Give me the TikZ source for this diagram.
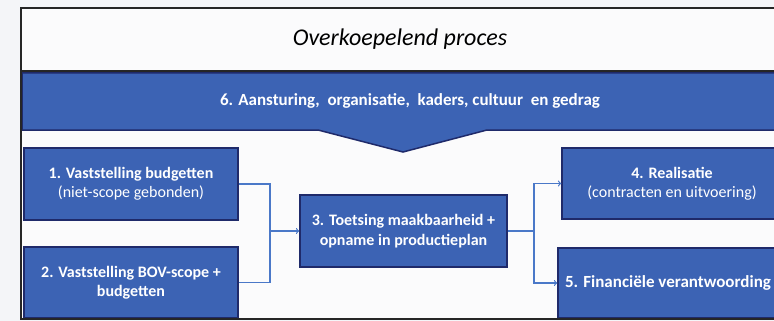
\documentclass[tikz,border=0pt]{standalone}
\usepackage{fontspec}
\setmainfont{Carlito}
\definecolor{procesblauw}{HTML}{3C63B4}
\definecolor{randblauw}{HTML}{1F2A6A}
\definecolor{lijnblauw}{HTML}{4A78C8}
\definecolor{achtergrond}{HTML}{F4F5F8}
\begin{document}
\begin{tikzpicture}[x=1pt,y=-1pt,
	stap/.style={rectangle, draw=randblauw, line width=1.5pt, fill=procesblauw, text=white, align=center, inner sep=0pt, font=\fontsize{16}{19.5}\selectfont},
	pijl/.style={draw=lijnblauw, line width=1.2pt}]
	\useasboundingbox (0,0) rectangle (774,321);
	\clip (0,0) rectangle (774,321);
	\fill[achtergrond] (0,0) rectangle (774,321);
	\fill[white!60!achtergrond] (21,8) rectangle (795,319);
	% overkoepelend proces
	\node (kop) at (400,39)	[font=\itshape\fontsize{24}{28}\selectfont]	{Overkoepelend proces};
	\filldraw[fill=procesblauw, draw=randblauw, line width=1.5pt] (22,73) -- (795,73) -- (795,130) -- (487,130) -- (403,152) -- (318,130) -- (22,130) -- cycle;
	\node (P6) at (410,101)	[text=white, font=\bfseries\fontsize{17}{20}\selectfont]	{6. Aansturing,\ \ organisatie,\ \ kaders, cultuur\ \ en gedrag};
	% processtappen
	\node (P1) at (131,184)		[stap, minimum width=214pt, minimum height=72pt]	{\textbf{1. Vaststelling budgetten}\\(niet-scope gebonden)};
	\node (P2) at (131,282.5)	[stap, minimum width=214pt, minimum height=71pt]	{\textbf{2. Vaststelling BOV-scope +}\\\textbf{budgetten}};
	\node (P3) at (403.5,231)	[stap, minimum width=207pt, minimum height=72pt]	{\textbf{3. Toetsing maakbaarheid +}\\\textbf{opname in productieplan}};
	\node (P4) at (672,183.5)	[stap, minimum width=220pt, minimum height=71pt]	{\textbf{4. Realisatie}\\(contracten en uitvoering)};
	\node (P5) at (668,283)		[stap, minimum width=220pt, minimum height=70pt, font=\fontsize{17}{20}\selectfont]	{\textbf{5. Financiële verantwoording}};
	\coordinate (J1) at (270,231);
	\coordinate (J2) at (534,231);
	\draw[pijl] (P1.east) -| (J1);
	\draw[pijl] (P2.east) -| (J1);
	\draw[pijl, ->] (J1) -- (P3.west);
	\draw[pijl] (P3.east) -- (J2);
	\draw[pijl, ->] (J2) |- (P4.west);
	\draw[pijl, ->] (J2) |- (P5.west);
	% kader
	\draw[line width=2.5pt, draw=black!85] (21,8) rectangle (795,319);
	\draw[line width=2.5pt, draw=black!85] (21,71) -- (795,71);
\end{tikzpicture}
\end{document}
